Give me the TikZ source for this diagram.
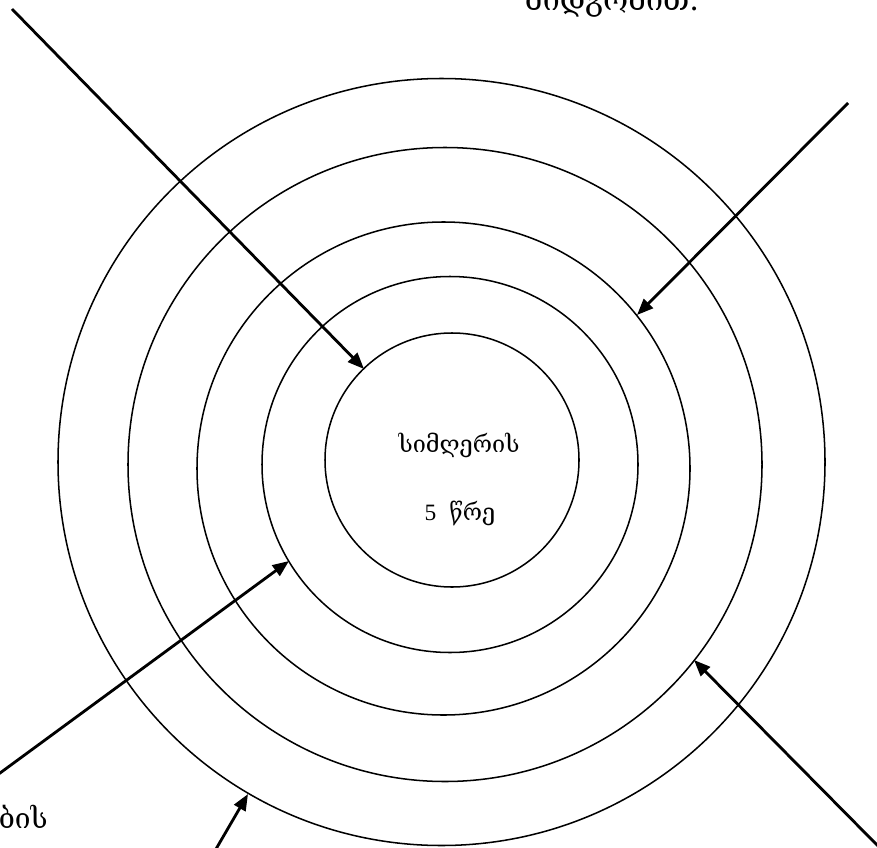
\documentclass[tikz,border=0pt]{standalone}
\usepackage{fontspec}
\setmainfont{Liberation Serif}
\newfontfamily\geofont{DejaVu Serif}
\usetikzlibrary{arrows.meta}

\begin{document}
\begin{tikzpicture}[x=0.03cm,y=-0.03cm,
  ring/.style={line width=1.3pt},
  pointer/.style={line width=2.4pt,-{Triangle[length=14pt,width=11pt]}},
  lbl/.style={inner sep=0pt,font=\fontsize{20}{24}\selectfont}]
  \useasboundingbox (0,0) rectangle (877,847);
  \draw[ring] (452,460) circle[radius=127];
  \draw[ring] (450,464.5) circle[radius=188];
  \draw[ring] (443.5,468.5) circle[radius=246.5];
  \draw[ring] (445,464.5) circle[radius=317];
  \draw[ring] (441.5,462) circle[radius=383.5];
  \coordinate (s1) at (12,9);
  \coordinate (t1) at (364,369);
  \coordinate (s2) at (848,103);
  \coordinate (t2) at (637,315);
  \coordinate (s3) at (-2,774.5);
  \coordinate (t3) at (289,561);
  \coordinate (s4) at (879,847);
  \coordinate (t4) at (694,660);
  \coordinate (s5) at (216,849);
  \coordinate (t5) at (248,794);
  \draw[pointer] (s1) -- (t1);
  \draw[pointer] (s2) -- (t2);
  \draw[pointer] (s3) -- (t3);
  \draw[pointer] (s4) -- (t4);
  \draw[pointer] (s5) -- (t5);
  \node[lbl] (songlbl) at (459,445) {\geofont სიმღერის};
  \node[lbl] (ringlbl) at (460,513) {5\hspace{0.55em}\geofont წრე};
  \node[lbl,anchor=base,font=\fontsize{26}{30}\selectfont] (toptxt) at (612,11) {\geofont მიდგომით.};
  \node[lbl,anchor=base east,font=\fontsize{24}{28}\selectfont] (lefttxt) at (48,828) {\geofont ბის};
\end{tikzpicture}
\end{document}
